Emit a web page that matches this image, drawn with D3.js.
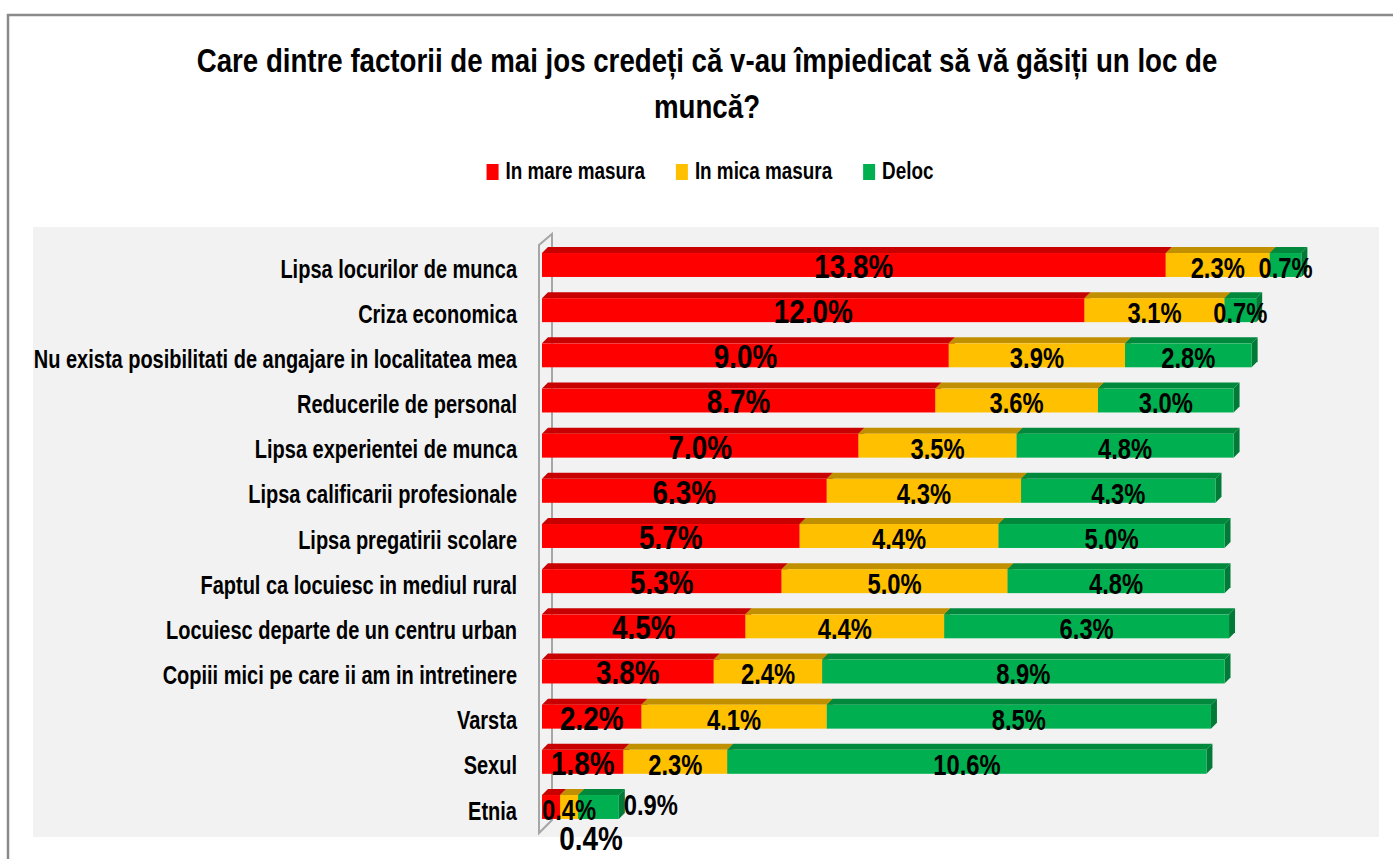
<!DOCTYPE html>
<html>
<head>
<meta charset="utf-8">
<script src="https://cdn.jsdelivr.net/npm/d3@7"></script>
<style>
    body { margin: 0; background: #fff; }
    svg text { font-family: "Liberation Sans", Arial, sans-serif; font-weight: bold; fill: #000; }
</style>
</head>
<body>
<div id="chart"></div>
<script>

// categories (top to bottom) and the three answer series, in %
let categories = [
    "Lipsa locurilor de munca",
    "Criza economica",
    "Nu exista posibilitati de angajare in localitatea mea",
    "Reducerile de personal",
    "Lipsa experientei de munca",
    "Lipsa calificarii profesionale",
    "Lipsa pregatirii scolare",
    "Faptul ca locuiesc in mediul rural",
    "Locuiesc departe de un centru urban",
    "Copiii mici pe care ii am in intretinere",
    "Varsta",
    "Sexul",
    "Etnia"
];
let inMareMasura = [13.8, 12.0, 9.0, 8.7, 7.0, 6.3, 5.7, 5.3, 4.5, 3.8, 2.2, 1.8, 0.4];
let inMicaMasura = [2.3, 3.1, 3.9, 3.6, 3.5, 4.3, 4.4, 5.0, 4.4, 2.4, 4.1, 2.3, 0.4];
let deloc = [0.7, 0.7, 2.8, 3.0, 4.8, 4.3, 5.0, 4.8, 6.3, 8.9, 8.5, 10.6, 0.9];

let seriesNames = ["In mare masura", "In mica masura", "Deloc"];
let titleLines = ["Care dintre factorii de mai jos credeți că v-au împiedicat să vă găsiți un loc de", "muncă?"];

let width = 1393, height = 859;

// the original font is a narrow Calibri; squeeze Liberation Sans horizontally
let narrow = 0.82;

// colours: front, top, side
let colors = [
    {front: "#ff0000", top: "#c80000", side: "#b00000"},
    {front: "#ffc000", top: "#c09000", side: "#a67c00"},
    {front: "#00b050", top: "#00883d", side: "#007a36"}
];

// build stacked rows
let rows = categories.map((c, i) => ({cat: c, values: [inMareMasura[i], inMicaMasura[i], deloc[i]]}));
let stack = d3.stack().keys([0, 1, 2]).value((d, k) => d.values[k]);
let stacked = stack(rows);

let svg = d3.select("#chart").append("svg")
    .attr("width", width)
    .attr("height", height);

// chart frame
svg.append("rect")
    .attr("x", 8).attr("y", 15)
    .attr("width", width + 20).attr("height", height + 20)
    .attr("fill", "#fff")
    .attr("stroke", "#8a8a8a")
    .attr("stroke-width", 2.5);

// plot area background
svg.append("rect")
    .attr("x", 33).attr("y", 227)
    .attr("width", 1379 - 33).attr("height", 837 - 227)
    .attr("fill", "#f2f2f2");

// title (squeezed so the first line spans the same width as the original)
let title = svg.append("g").attr("class", "title");
let titleTexts = title.selectAll("text")
    .data(titleLines)
    .join("text")
    .attr("text-anchor", "middle")
    .style("font-size", "34px")
    .text(d => d);
let titleScale = 1021 / titleTexts.node().getComputedTextLength();
titleTexts.attr("transform", (d, i) => `translate(707,${72 + i * 46}) scale(${titleScale},1)`);

// scales
let x = d3.scaleLinear().domain([0, 18]).range([542, 542 + 18 * 45.2]);
let y = d3.scaleBand().domain(categories).range([231.8, 840.2]).padding(0.47);
let dx = 6, dy = 6;

// left 3D wall
let wallTop = 234, wallBottom = 833;
svg.append("path")
    .attr("d", `M${x(0) - 3},${wallTop + 11} L${x(0) + 10},${wallTop} L${x(0) + 10},${wallBottom - 13} L${x(0) - 3},${wallBottom} Z`)
    .attr("fill", "#f2f2f2")
    .attr("stroke", "#a6a6a6")
    .attr("stroke-width", 2);

// bars
let barGroup = svg.append("g").attr("class", "bars");
rows.forEach((row, i) => {
    let y0 = y(row.cat), h = y.bandwidth();
    stacked.forEach((s, k) => {
        let x0 = x(s[i][0]), x1 = x(s[i][1]);
        let col = colors[k];
        // side
        barGroup.append("path")
            .attr("d", `M${x1},${y0} L${x1 + dx},${y0 - dy} L${x1 + dx},${y0 + h - dy} L${x1},${y0 + h} Z`)
            .attr("fill", col.side);
        // top
        barGroup.append("path")
            .attr("d", `M${x0},${y0} L${x0 + dx},${y0 - dy} L${x1 + dx},${y0 - dy} L${x1},${y0} Z`)
            .attr("fill", col.top);
        // front
        barGroup.append("rect")
            .attr("x", x0).attr("y", y0)
            .attr("width", x1 - x0).attr("height", h)
            .attr("fill", col.front);
    });
});

// data labels
let labelGroup = svg.append("g").attr("class", "labels");
rows.forEach((row, i) => {
    let y0 = y(row.cat), h = y.bandwidth();
    let last = i === rows.length - 1;
    stacked.forEach((s, k) => {
        let cx = (x(s[i][0]) + x(s[i][1])) / 2;
        let cy = y0 + h + 1;
        // the tiny "Etnia" labels were moved by hand in the original
        if (last && k === 0) { cx = x(s[i][1]) + 31; cy = y0 + h + 31; }
        if (last && k === 2) { cx = x(s[i][1]) + 32; cy = y0 + h - 4; }
        labelGroup.append("text")
            .attr("transform", `translate(${cx},${cy}) scale(${narrow},1)`)
            .attr("text-anchor", "middle")
            .style("font-size", k === 0 ? "34px" : "29px")
            .text(row.values[k].toFixed(1) + "%");
    });
});

// category labels
svg.append("g").attr("class", "y-axis").selectAll("text")
    .data(categories)
    .join("text")
    .attr("transform", d => `translate(517,${y(d) + y.bandwidth() / 2 + 6}) scale(0.8,1)`)
    .attr("text-anchor", "end")
    .attr("dominant-baseline", "middle")
    .style("font-size", "25px")
    .text(d => d);

// legend
let legend = svg.append("g").attr("class", "legend");
let items = legend.selectAll("g")
    .data(seriesNames)
    .join("g");
items.append("rect")
    .attr("width", 12).attr("height", 16)
    .attr("y", -15)
    .attr("fill", (d, i) => colors[i].front);
items.append("text")
    .attr("transform", `translate(19,0) scale(${narrow},1)`)
    .style("font-size", "23px")
    .text(d => d);
let lx = 0;
items.each(function () {
    d3.select(this).attr("transform", `translate(${lx},0)`);
    lx += 19 + this.querySelector("text").getComputedTextLength() * narrow + 31;
});
lx -= 31;
legend.attr("transform", `translate(${710 - lx / 2},179)`);

</script>
</body>
</html>
